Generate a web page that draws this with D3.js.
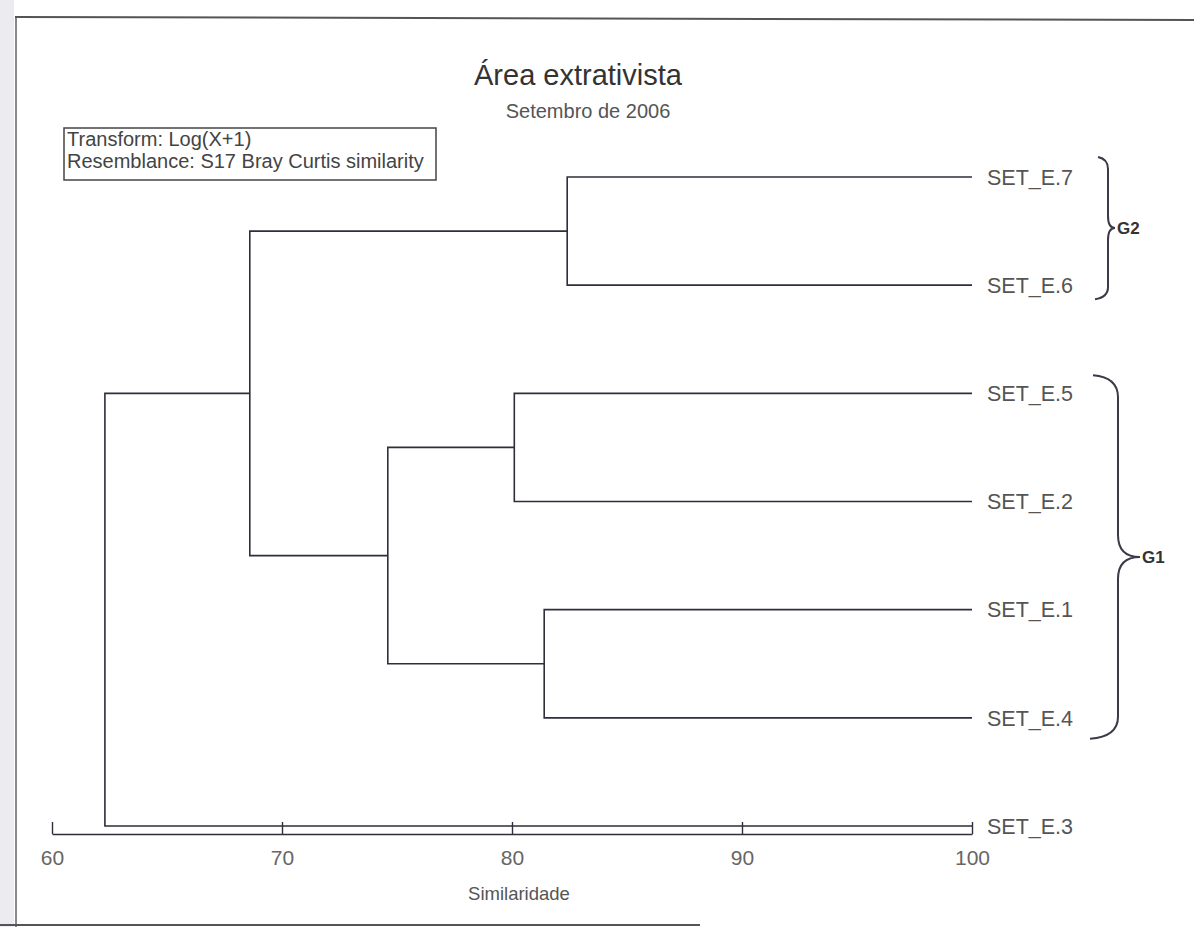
<!DOCTYPE html>
<html>
<head>
<meta charset="utf-8">
<script src="https://cdn.jsdelivr.net/npm/d3@7"></script>
<style>
  html, body { margin: 0; padding: 0; background: #ffffff; }
  svg { display: block; font-family: "Liberation Sans", Arial, sans-serif; }
</style>
</head>
<body>
<svg id="chart" width="1194" height="927"></svg>
<script>
// ---- data ----
const leaves = ["SET_E.7", "SET_E.6", "SET_E.5", "SET_E.2", "SET_E.1", "SET_E.4", "SET_E.3"];
// merges (UPGMA): node i is "M" + (i+1)
const mergeLeft  = ["SET_E.7", "SET_E.5", "SET_E.1", "M2", "M1", "M5"];
const mergeRight = ["SET_E.6", "SET_E.2", "SET_E.4", "M3", "M4", "SET_E.3"];
const mergeSimilarity = [82.4, 80.1, 81.4, 74.6, 68.6, 62.3];
const axisTicks = [60, 70, 80, 90, 100];
const groupNames = ["G2", "G1"];
const groupFirst = ["SET_E.7", "SET_E.5"];
const groupLast  = ["SET_E.6", "SET_E.4"];

const title = "Área extrativista";
const subtitle = "Setembro de 2006";
const infoLines = ["Transform: Log(X+1)", "Resemblance: S17 Bray Curtis similarity"];
const xLabel = "Similaridade";

// ---- setup ----
const svg = d3.select("#chart");
const W = 1194, H = 927;

// scanned page frame
svg.append("rect").attr("x", 0).attr("y", 0).attr("width", 14).attr("height", H).attr("fill", "#ececf0");
svg.append("line").attr("x1", 15).attr("x2", W).attr("y1", 17).attr("y2", 20)
  .attr("stroke", "#555").attr("stroke-width", 2);
svg.append("line").attr("x1", 16).attr("x2", 16).attr("y1", 18).attr("y2", H)
  .attr("stroke", "#888").attr("stroke-width", 2);
svg.append("line").attr("x1", 0).attr("x2", 700).attr("y1", 925).attr("y2", 925)
  .attr("stroke", "#555").attr("stroke-width", 2);

const x = d3.scaleLinear().domain([60, 100]).range([52, 972]);
const y = d3.scalePoint().domain(leaves).range([177, 826]);

const lineColor = "#2e2e3c";
const textColor = "#555";

// compute node positions
const pos = {};
leaves.forEach(l => { pos[l] = { x: x(100), y: y(l) }; });
mergeLeft.forEach((a, i) => {
  const b = mergeRight[i];
  const name = "M" + (i + 1);
  const xm = x(mergeSimilarity[i]);
  pos[name] = { x: xm, y: (pos[a].y + pos[b].y) / 2 };
});

const g = svg.append("g");
mergeLeft.forEach((a, i) => {
  const b = mergeRight[i];
  const n = pos["M" + (i + 1)];
  const pa = pos[a], pb = pos[b];
  const path = d3.path();
  path.moveTo(pa.x, pa.y);
  path.lineTo(n.x, pa.y);
  path.lineTo(n.x, pb.y);
  path.lineTo(pb.x, pb.y);
  g.append("path").attr("d", path.toString())
    .attr("fill", "none").attr("stroke", lineColor).attr("stroke-width", 1.6);
});

// leaf labels
svg.append("g").selectAll("text").data(leaves).join("text")
  .attr("x", x(100) + 15).attr("y", d => y(d))
  .attr("dy", "0.36em")
  .attr("font-size", 21.5).attr("fill", textColor)
  .text(d => d);

// axis
const axisY = 834;
const axis = d3.axisBottom(x).tickValues(axisTicks).tickSizeInner(-12).tickSizeOuter(0).tickPadding(16)
  .tickFormat(d3.format("d"));
const ag = svg.append("g").attr("transform", `translate(0,${axisY})`).call(axis);
ag.select(".domain").attr("stroke", lineColor).attr("stroke-width", 1.6);
ag.selectAll(".tick line").attr("stroke", lineColor).attr("stroke-width", 1.4);
ag.selectAll(".tick text").attr("font-size", 21).attr("fill", "#666")
  .attr("font-family", "Liberation Sans, Arial, sans-serif");

svg.append("text").attr("x", 519).attr("y", 900).attr("text-anchor", "middle")
  .attr("font-size", 18.5).attr("fill", textColor).text(xLabel);

// titles
svg.append("text").attr("x", 578).attr("y", 85).attr("text-anchor", "middle")
  .attr("font-size", 29).attr("fill", "#333").text(title);
svg.append("text").attr("x", 588).attr("y", 118).attr("text-anchor", "middle")
  .attr("font-size", 20).attr("fill", textColor).text(subtitle);

// info box
svg.append("rect").attr("x", 64).attr("y", 128).attr("width", 372).attr("height", 52)
  .attr("fill", "none").attr("stroke", "#444").attr("stroke-width", 1.5);
svg.append("g").selectAll("text").data(infoLines).join("text")
  .attr("x", 67).attr("y", (d, i) => 146 + i * 22)
  .attr("font-size", 20).attr("fill", "#444").text(d => d);

// group braces
const braceSpec = [
  { dx: 1098, w: 10, tip: 7, top: -20, bot: 14, r: 12 },
  { dx: 1093, w: 25, tip: 22, top: -18, bot: 21, r: 22 }
];
groupNames.forEach((name, i) => {
  const s = braceSpec[i];
  const y0 = y(groupFirst[i]) + s.top;
  const y1 = y(groupLast[i]) + s.bot;
  const ym = (y0 + y1) / 2;
  const xs = s.dx + s.w;
  const p = d3.path();
  p.moveTo(s.dx, y0);
  p.quadraticCurveTo(xs, y0 + 2, xs, y0 + s.r);
  p.lineTo(xs, ym - s.r);
  p.quadraticCurveTo(xs, ym, xs + s.tip, ym);
  p.quadraticCurveTo(xs, ym, xs, ym + s.r);
  p.lineTo(xs, y1 - s.r);
  p.quadraticCurveTo(xs, y1 - 2, s.dx - 3, y1);
  svg.append("path").attr("d", p.toString()).attr("fill", "none")
    .attr("stroke", "#3a3a48").attr("stroke-width", 2);
  svg.append("text").attr("x", xs + s.tip + 2).attr("y", ym).attr("dy", "0.36em")
    .attr("font-size", 17).attr("font-weight", "bold").attr("fill", "#333").text(name);
});
</script>
</body>
</html>
